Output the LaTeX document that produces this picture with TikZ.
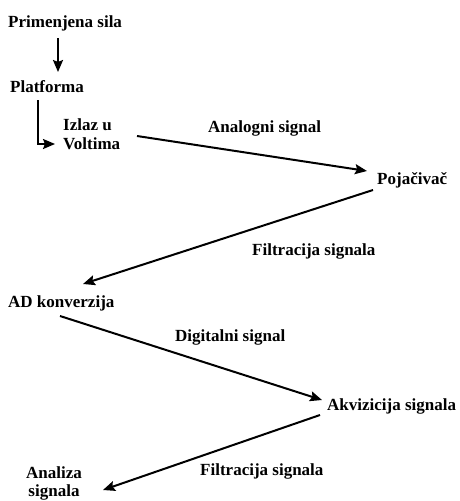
\documentclass[tikz,border=0pt]{standalone}
\usepackage{fontspec}
\setmainfont{Liberation Serif}
\usetikzlibrary{arrows.meta}
\begin{document}
\begin{tikzpicture}[x=1pt,y=-1pt,
  lbl/.style={inner sep=0pt,font=\fontsize{17}{19}\selectfont\bfseries},
  arr/.style={line width=2pt,-{Stealth[length=12pt,width=10pt,inset=2pt]}}]
\useasboundingbox[fill=white] (0,0) rectangle (460,501);
\node[lbl,anchor=base west] (prim) at (8,27) {Primenjena sila};
\node[lbl,anchor=base west] (plat) at (10,92) {Platforma};
\node[lbl,anchor=north west,align=left] (izlaz) at (63,119) {Izlaz u\\Voltima};
\node[lbl,anchor=base west] (analog) at (208,132) {Analogni signal};
\node[lbl,anchor=base west] (poj) at (377,184) {Pojačivač};
\node[lbl,anchor=base west] (filt1) at (252,255) {Filtracija signala};
\node[lbl,anchor=base west] (ad) at (8,307) {AD konverzija};
\node[lbl,anchor=base west] (dig) at (175,341) {Digitalni signal};
\node[lbl,anchor=base west] (akv) at (327,410) {Akvizicija signala};
\node[lbl,anchor=base west] (filt2) at (200,475) {Filtracija signala};
\node[lbl,anchor=north,align=center,font=\fontsize{17}{18}\selectfont\bfseries] (anal) at (54,466) {Analiza\\signala};

\draw[arr] ([shift={(50,11)}]prim.base west) -- ([shift={(48,-20)}]plat.base west);
\draw[arr] ([shift={(28,8)}]plat.base west) |- ([shift={(-8,25)}]izlaz.north west);
\draw[arr] ([shift={(74,17)}]izlaz.north west) -- ([shift={(-10,-13)}]poj.base west);
\draw[arr] ([shift={(-4,6)}]poj.base west) -- ([shift={(75,-23)}]ad.base west);
\draw[arr] ([shift={(52,9)}]ad.base west) -- ([shift={(-5,-10)}]akv.base west);
\draw[arr] ([shift={(-7,5)}]akv.base west) -- ([shift={(49,24)}]anal.north);
\end{tikzpicture}
\end{document}
